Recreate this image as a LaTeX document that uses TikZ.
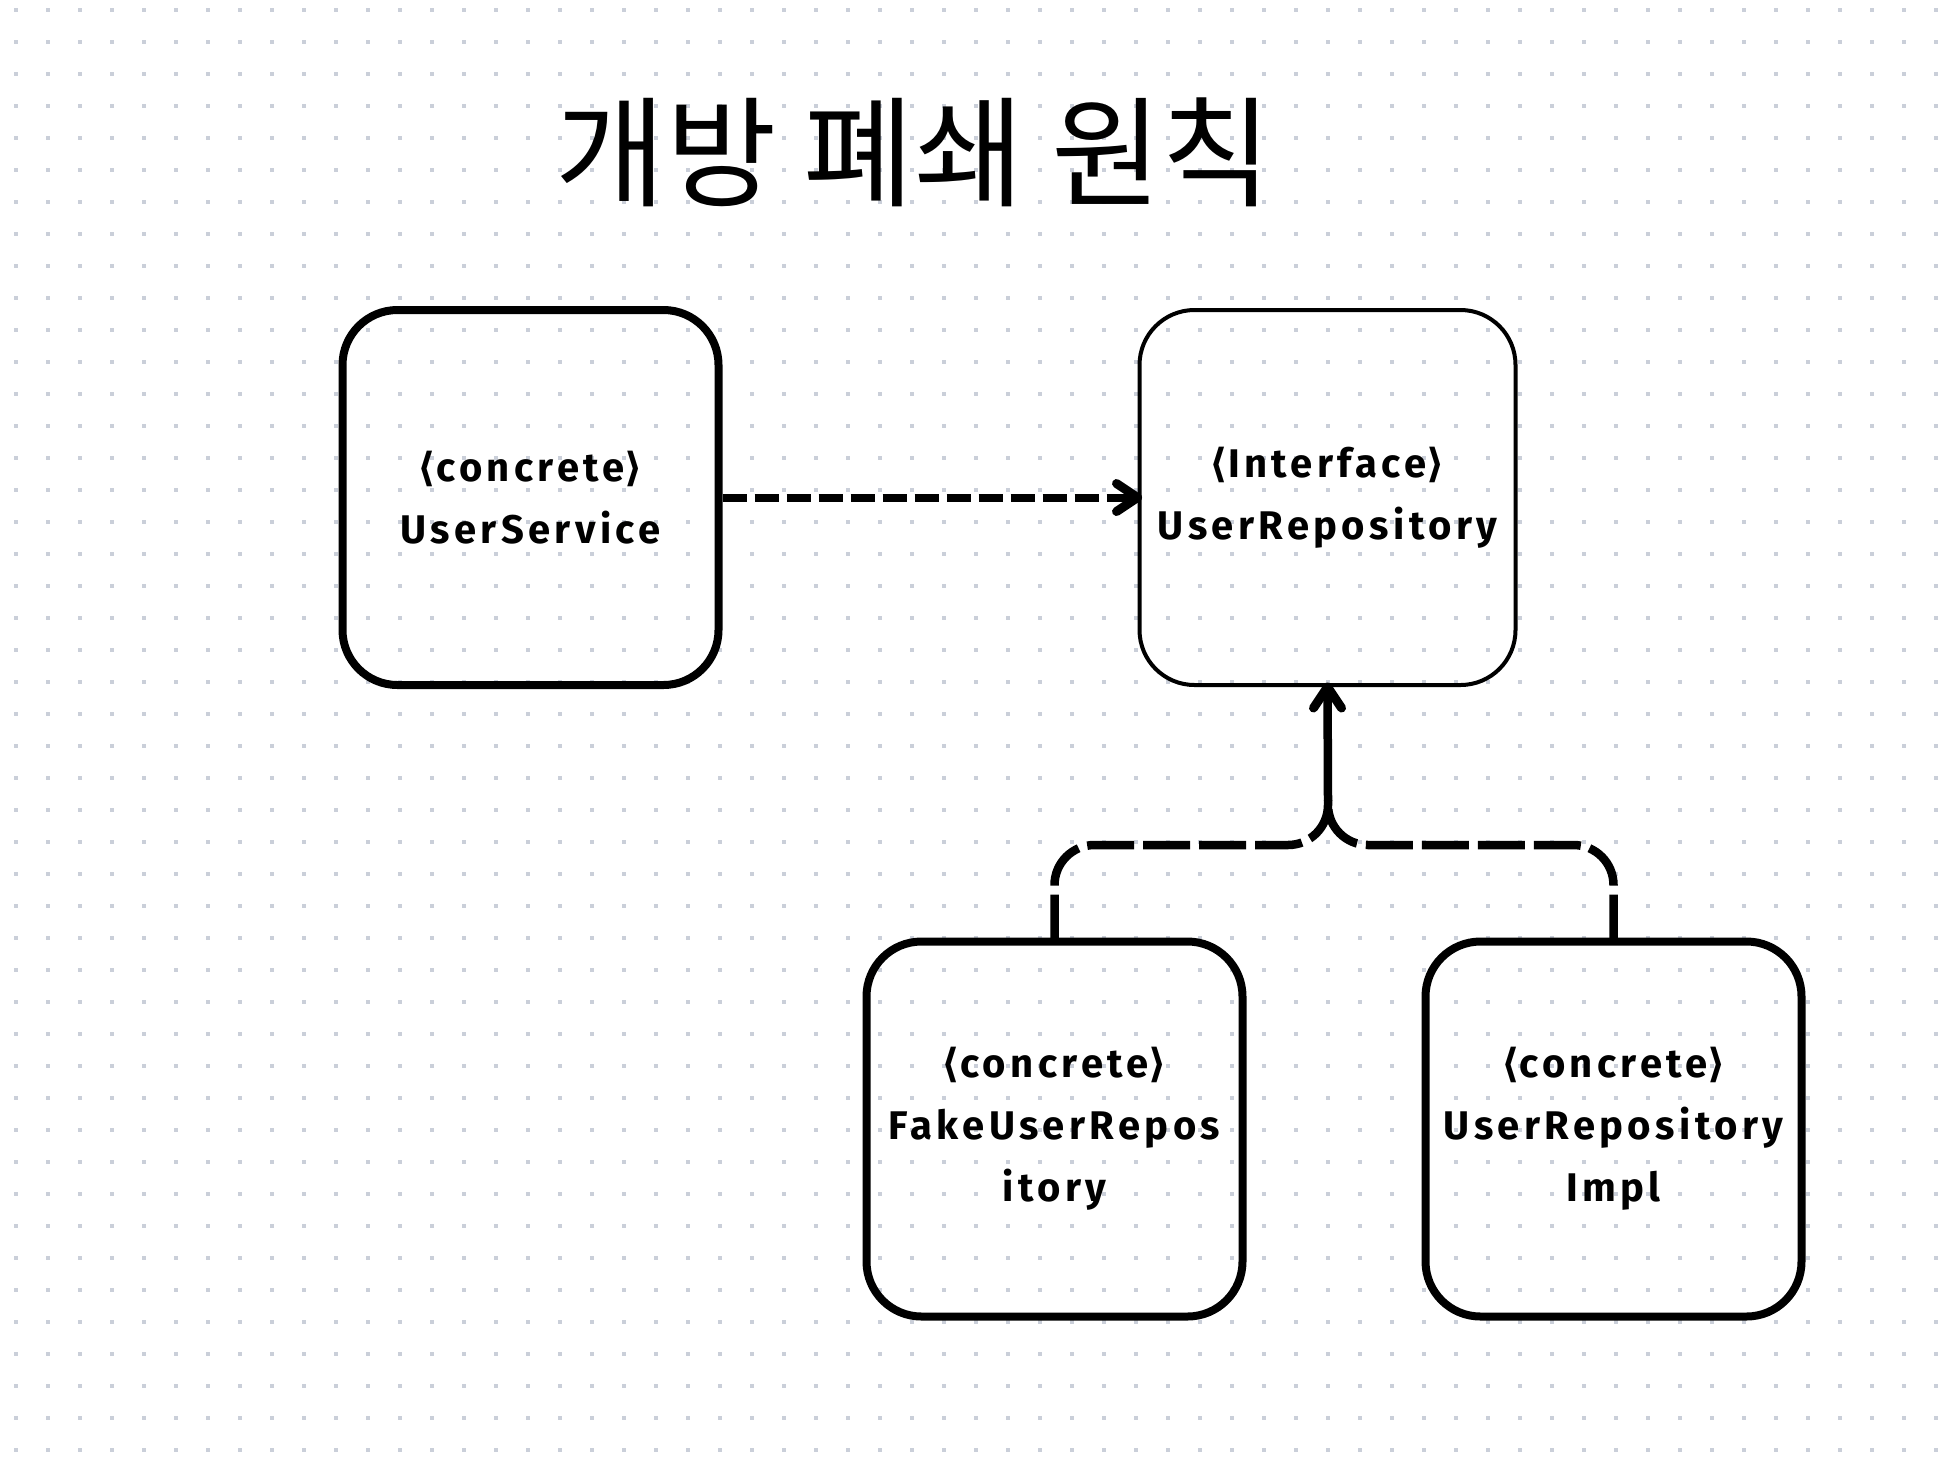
\documentclass[tikz,border=0pt]{standalone}
\usepackage{fontspec}
\usetikzlibrary{arrows.meta}
\setmainfont{Fira Sans}[LetterSpace=11]
\newfontfamily\cjk{Noto Sans CJK KR}
\newfontfamily\brfont{DejaVu Sans}
\definecolor{dotc}{HTML}{CACFD9}
\newcommand{\lb}{{\brfont\bfseries ⟨}}
\newcommand{\rb}{{\brfont\bfseries ⟩}}
\tikzset{
  cls/.style={rectangle, rounded corners=55pt, draw=black, line width=8pt,
    minimum width=376pt, minimum height=375pt, inner sep=0pt, outer sep=0pt, align=center,
    font={\fontsize{40}{62}\selectfont\bfseries}},
  thincls/.style={cls, line width=4pt},
  dep/.style={line width=8pt, dash pattern=on 24pt off 8pt},
  barb/.style={line width=9pt, line cap=round, line join=round},
  realize/.style={line width=8.5pt, dash pattern=on 47pt off 9pt, rounded corners=40pt},
  assoc/.style={line width=8.5pt}
}
\begin{document}
\begin{tikzpicture}[x=1pt,y=-1pt]
\useasboundingbox (0,0) rectangle (1942,1476);
\fill[white] (0,0) rectangle (1942,1476);
\foreach \i in {0,...,60}{
  \foreach \j in {0,...,45}{
    \fill[dotc] ({16+32*\i-2},{10+32*\j-2}) rectangle +(4,4);
  }
}
\node[font={\cjk\fontsize{120}{130}\selectfont}] (title) at (914,152) {개방 폐쇄 원칙};
\node[cls] (US) at (530.5,497.5) {\lb concrete\rb\\UserService};
\node[thincls] (IR) at (1327.5,497.5) {\lb Interface\rb\\UserRepository};
\node[cls] (FR) at (1054.5,1129) {\lb concrete\rb\\FakeUserRepos\\itory};
\node[cls] (RI) at (1613.5,1129) {\lb concrete\rb\\UserRepository\\Impl};
\coordinate (H) at (1328,845);
\coordinate (J) at (1328,800);
\draw[dep] ([xshift=4pt]US.east) -- ([xshift=-2pt]IR.west);
\draw[barb] ([xshift=-2pt]IR.west) ++(-21,-14) -- ++(21,14) -- ++(-21,14);
\draw[realize] (FR.north) -- (FR.north |- H) -- (J |- H) -- (J);
\draw[realize] (RI.north) -- (RI.north |- H) -- (J |- H) -- (J);
\draw[assoc] (J) -- ([yshift=-2pt]IR.south);
\draw[barb] ([yshift=-2pt]IR.south) ++(-14,21) -- ++(14,-21) -- ++(14,21);
\end{tikzpicture}
\end{document}
